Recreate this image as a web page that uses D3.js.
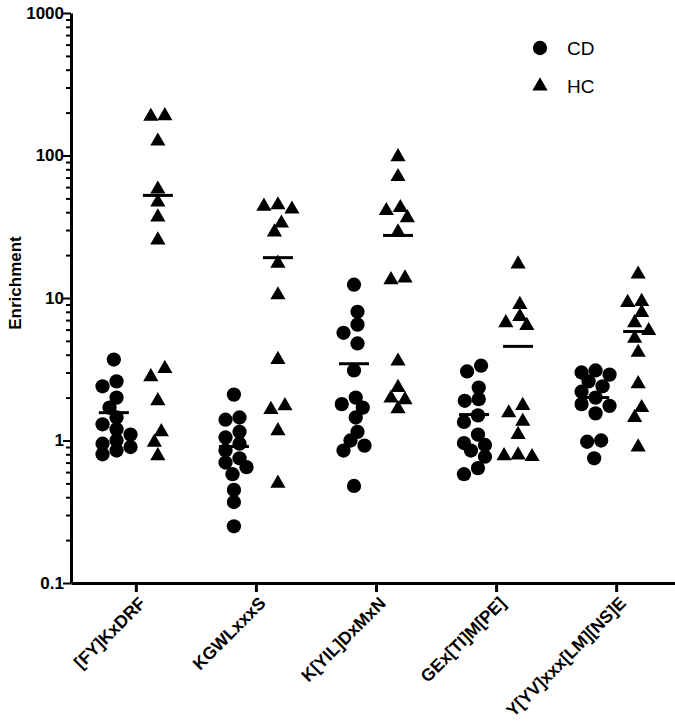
<!DOCTYPE html>
<html>
<head>
<meta charset="utf-8">
<script src="https://cdn.jsdelivr.net/npm/d3@7"></script>
<style>
  body { margin: 0; background: #fff; }
  svg { display: block; font-family: "Liberation Sans", Arial, sans-serif; }
</style>
</head>
<body>
<div id="wrapper"></div>
<script>
// motifs on the x axis
const categories = ["[FY]KxDRF", "KGWLxxxS", "K[YIL]DxMxN", "GEx[TI]M[PE]", "Y[YV]xxx[LM][NS]E"];
const seriesNames = ["CD", "HC"];

// enrichment values, one list per motif
const cdValues = [
    [3.7, 2.6, 2.4, 2.0, 1.7, 1.45, 1.3, 1.2, 1.1, 1.0, 0.95, 0.9, 0.85, 0.8],
    [2.1, 1.45, 1.4, 1.15, 1.05, 0.95, 0.85, 0.75, 0.7, 0.65, 0.58, 0.45, 0.37, 0.25],
    [12.4, 8.0, 6.5, 5.7, 4.8, 3.1, 2.0, 1.8, 1.7, 1.45, 1.15, 1.0, 0.92, 0.85, 0.48],
    [3.35, 3.05, 2.35, 1.95, 1.9, 1.5, 1.35, 1.1, 0.96, 0.93, 0.85, 0.77, 0.64, 0.58],
    [3.1, 3.0, 2.9, 2.6, 2.4, 2.2, 2.0, 1.8, 1.75, 1.55, 1.0, 0.98, 0.75]
];
const hcValues = [
    [190, 188, 126, 58, 47, 37, 25.5, 3.2, 2.8, 1.9, 1.15, 0.97, 0.78],
    [45, 44, 42, 33.5, 29, 17.5, 10.5, 3.7, 1.75, 1.65, 1.17, 0.5],
    [98, 71, 43, 41, 36.5, 29, 13.8, 13.4, 3.6, 2.35, 1.98, 1.93, 1.67],
    [17.3, 9, 7.4, 6.7, 6.4, 1.76, 1.56, 1.36, 1.1, 0.79, 0.78, 0.77],
    [14.7, 9.45, 9.3, 7.9, 6.7, 5.9, 5.2, 4.15, 2.5, 1.7, 1.45, 0.9]
];
const yTickValues = [0.1, 1, 10, 100, 1000];

const dimension = {
    width: 675,
    height: 727,
    margin: { top: 13, left: 71, bottom: 144 }
};
const axisY = dimension.height - dimension.margin.bottom;

const svg = d3.select("#wrapper").append("svg")
    .attr("width", dimension.width)
    .attr("height", dimension.height);

const yScaler = d3.scaleLog()
    .domain([0.1, 1000])
    .range([axisY, dimension.margin.top]);

const xScaler = d3.scalePoint()
    .domain(categories)
    .range([dimension.margin.left, 681])
    .padding(0.54);

// CD left of the tick, HC right of it
const subScaler = d3.scalePoint()
    .domain(seriesNames)
    .range([-22, 22]);

const symbolPath = {
    CD: d3.symbol(d3.symbolCircle, 160)(),
    HC: d3.symbol(d3.symbolTriangle, 100)()
};

// spread points that would overlap, roughly like a prism scatter
function swarm(values) {
    const step = 7;
    const placed = [];
    values.map(v => ({ v: v, y: yScaler(v) }))
        .sort((a, b) => a.y - b.y)
        .forEach(p => {
            let best = 0, bestD = -1;
            for (const dx of [0, -step, step, -2 * step, 2 * step]) {
                const d = placed.length ? d3.min(placed, q => Math.hypot(q.dx - dx, q.y - p.y)) : Infinity;
                if (d >= 11) { best = dx; break; }
                if (d > bestD) { bestD = d; best = dx; }
            }
            p.dx = best;
            placed.push(p);
        });
    // centre each run of touching points
    let run = [];
    const flush = () => {
        if (run.length > 1) {
            const shift = -d3.mean(run, p => p.dx);
            run.forEach(p => p.dx += shift);
        }
        run = [];
    };
    placed.forEach((p, i) => {
        if (i > 0 && p.y - placed[i - 1].y >= 13) flush();
        run.push(p);
    });
    flush();
    return placed;
}

// y axis, majors + minor log ticks
svg.append("g")
    .attr("transform", `translate(${dimension.margin.left},0)`)
    .call(d3.axisLeft(yScaler)
        .tickValues(yScaler.ticks().filter(t => !yTickValues.includes(t)))
        .tickSize(5).tickSizeOuter(0).tickFormat(""))
    .call(g => g.select(".domain").remove())
    .call(g => g.selectAll("line").attr("stroke-width", 2));

const yAxis = svg.append("g")
    .attr("transform", `translate(${dimension.margin.left},0)`)
    .call(d3.axisLeft(yScaler)
        .tickValues(yTickValues)
        .tickSize(8).tickSizeOuter(0)
        .tickFormat(d => d));
yAxis.select(".domain").attr("stroke-width", 3);
yAxis.selectAll("line").attr("stroke-width", 2);
yAxis.selectAll("text")
    .attr("x", -7)
    .attr("font-size", 17)
    .attr("font-weight", "bold")
    .attr("fill", "#000");

const xAxis = svg.append("g")
    .attr("transform", `translate(0,${axisY})`)
    .call(d3.axisBottom(xScaler).tickSize(9).tickSizeOuter(0));
xAxis.select(".domain").attr("stroke-width", 3);
xAxis.selectAll("line").attr("stroke-width", 3);
xAxis.selectAll("text")
    .attr("x", 0).attr("y", 0)
    .attr("dy", "0.35em")
    .attr("transform", "translate(6,17) rotate(-45)")
    .style("text-anchor", "end")
    .attr("font-size", 17.5)
    .attr("font-weight", "bold")
    .attr("fill", "#000");

svg.append("text")
    .attr("transform", `translate(21,${yScaler(10) - 15}) rotate(-90)`)
    .attr("text-anchor", "middle")
    .attr("font-size", 17)
    .attr("font-weight", "bold")
    .text("Enrichment");

// points and mean bars
const seriesValues = { CD: cdValues, HC: hcValues };
categories.forEach((cat, i) => {
    seriesNames.forEach(name => {
        const values = seriesValues[name][i];
        const cx = xScaler(cat) + subScaler(name);
        svg.append("g")
            .selectAll("path")
            .data(swarm(values))
            .join("path")
            .attr("d", symbolPath[name])
            .attr("transform", d => `translate(${cx + d.dx},${d.y})`)
            .attr("fill", "#000");
        const m = yScaler(d3.mean(values));
        svg.append("line")
            .attr("x1", cx - 15).attr("x2", cx + 15)
            .attr("y1", m).attr("y2", m)
            .attr("stroke", "#000")
            .attr("stroke-width", 3);
    });
});

// legend
const legend = svg.append("g")
    .attr("transform", "translate(540,48)");
seriesNames.forEach((name, i) => {
    legend.append("path")
        .attr("d", symbolPath[name])
        .attr("transform", `translate(0,${i * 38})`)
        .attr("fill", "#000");
    legend.append("text")
        .attr("x", 27)
        .attr("y", i * 38)
        .attr("dy", "0.36em")
        .attr("font-size", 19)
        .text(name);
});
</script>
</body>
</html>
